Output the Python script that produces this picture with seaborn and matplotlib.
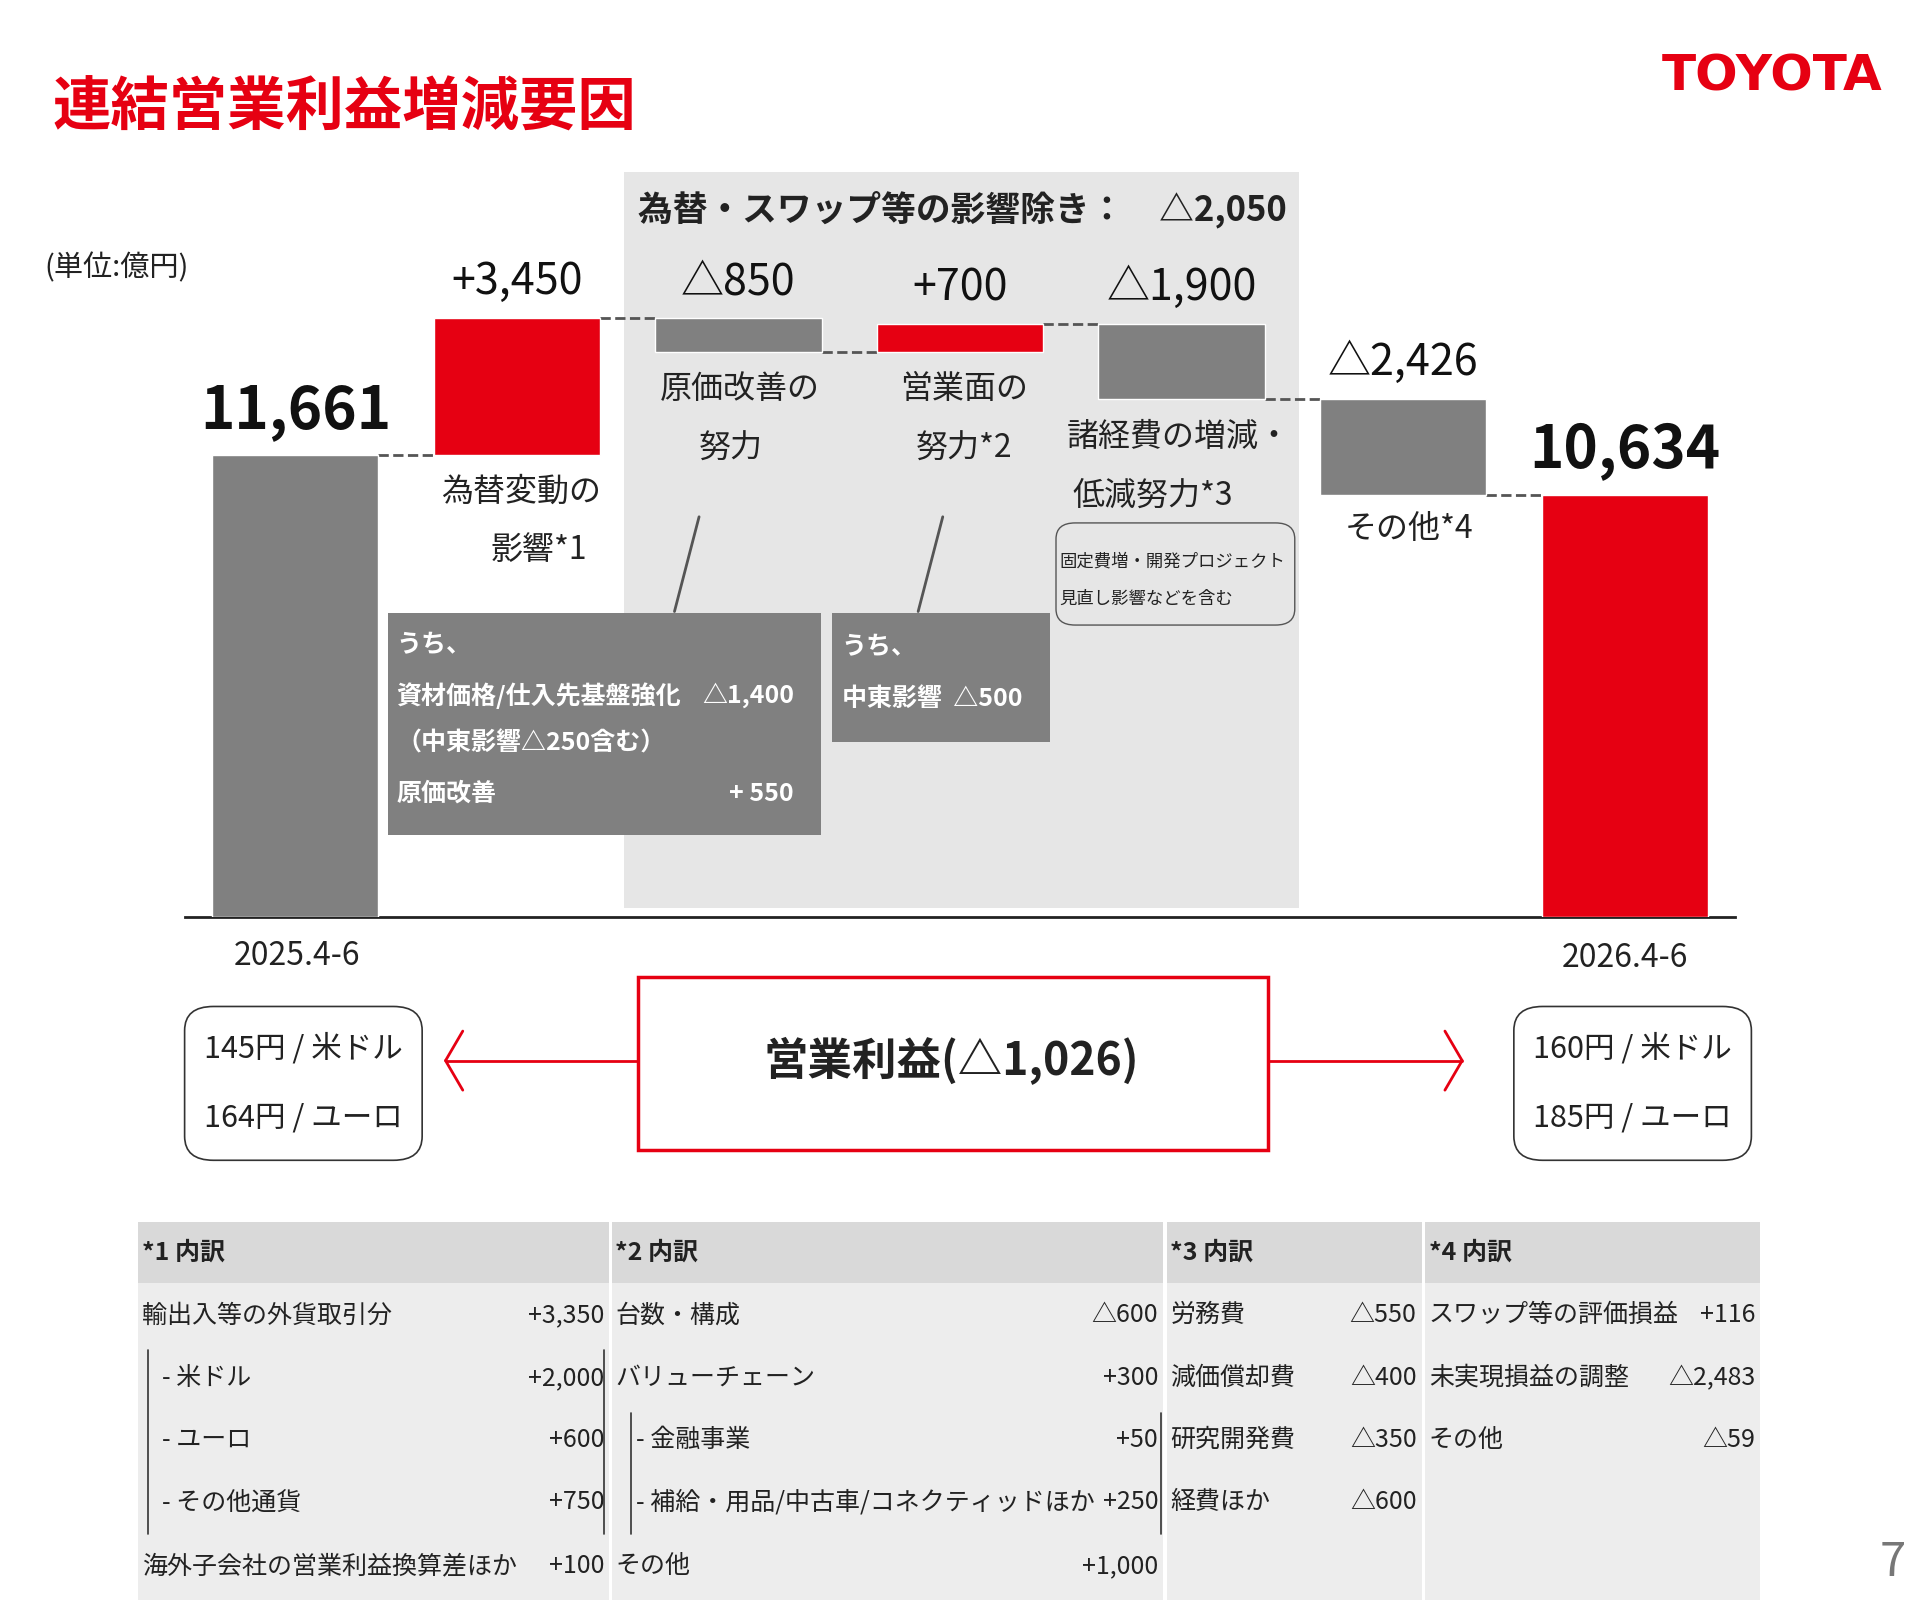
import matplotlib
matplotlib.use("Agg")
import matplotlib.pyplot as plt
from matplotlib.patches import Rectangle, FancyBboxPatch
from matplotlib.lines import Line2D
import seaborn as sns

# data
steps = ["2025.4-6", "為替変動の影響", "原価改善の努力", "営業面の努力", "諸経費の増減・低減努力", "その他", "2026.4-6"]
deltas = [11661, 3450, -850, 700, -1900, -2426, 10634]
value_labels = ["11,661", "+3,450", "△850", "+700", "△1,900", "△2,426", "10,634"]

t1_rows = [("輸出入等の外貨取引分", "+3,350"), ("- 米ドル", "+2,000"), ("- ユーロ", "+600"),
           ("- その他通貨", "+750"), ("海外子会社の営業利益換算差ほか", "+100")]
t2_rows = [("台数・構成", "△600"), ("バリューチェーン", "+300"), ("- 金融事業", "+50"),
           ("- 補給・用品/中古車/コネクティッドほか", "+250"), ("その他", "+1,000")]
t3_rows = [("労務費", "△550"), ("減価償却費", "△400"), ("研究開発費", "△350"), ("経費ほか", "△600")]
t4_rows = [("スワップ等の評価損益", "+116"), ("未実現損益の調整", "△2,483"), ("その他", "△59")]

RED = "#E60012"
GRAY = "#808080"

sns.set_theme(style="white")
plt.rcParams['font.family'] = ['Noto Sans CJK JP', 'DejaVu Sans']

W, H = 1560, 1302
fig = plt.figure(figsize=(19.2, 16.02), dpi=100)


def fx(x):
    return x / W


def fy(y):
    return 1 - y / H


def txt(x, y, s, size=20, ha="left", va="center", color="#222222", weight="normal", **kw):
    fig.text(fx(x), fy(y), s, fontsize=size, ha=ha, va=va, color=color, weight=weight, **kw)


def rect(x0, y0, x1, y1, **kw):
    fig.patches.append(Rectangle((fx(x0), fy(y1)), fx(x1) - fx(x0), fy(y0) - fy(y1),
                                 transform=fig.transFigure, **kw))


def line(x0, y0, x1, y1, **kw):
    fig.lines.append(Line2D([fx(x0), fx(x1)], [fy(y0), fy(y1)], transform=fig.transFigure, **kw))


# waterfall axes
ax = fig.add_axes([fx(150), fy(745), fx(1410) - fx(150), fy(140) - fy(745)])
ax.patch.set_alpha(0)
# shaded region behind the middle steps
ax.axvspan(1.483, 4.528, ymin=0.0116, ymax=1, color="#e6e6e6", lw=0, zorder=0)
bottoms, heights, colors = [], [], []
level = 0
for i, d in enumerate(deltas):
    if i == 0 or i == len(deltas) - 1:
        bottoms.append(0); heights.append(d); level = d
        colors.append(GRAY if i == 0 else RED)
    else:
        b = level if d >= 0 else level + d
        bottoms.append(b); heights.append(abs(d)); level += d
        colors.append(RED if d >= 0 else GRAY)
xs = list(range(len(deltas)))
ax.bar(xs, heights, bottom=bottoms, width=0.75, color=colors, zorder=3)
tops = [b + h for b, h in zip(bottoms, heights)]
level = 0
for i, d in enumerate(deltas[:-1]):
    level = d if i == 0 else level + d
    ax.plot([i + 0.375, i + 1 - 0.375], [level, level], ls="--", color="#555555", lw=2, zorder=2)
ax.set_xlim(-0.5, 6.5)
ax.set_ylim(0, 18790)
ax.set_xticks([]); ax.set_yticks([])
for s in ["top", "left", "right"]:
    ax.spines[s].set_visible(False)
ax.spines["bottom"].set_color("#222222")
ax.spines["bottom"].set_linewidth(2)
big = {0: 42, 6: 42}
for i, lab in enumerate(value_labels):
    ax.text(i, tops[i] + 350, lab, ha="center", va="bottom", fontsize=big.get(i, 31),
            weight="bold" if i in big else "normal", color="#111111", zorder=4)

# titles
txt(43, 88, "連結営業利益増減要因", size=42, color=RED, weight="bold")
txt(1440, 62, "TOYOTA", size=36, color=RED, weight="bold", ha="center", family="DejaVu Sans")
txt(36, 218, "(単位:億円)", size=21)
txt(782, 170, "為替・スワップ等の影響除き：　△2,050", size=25, ha="center", weight="bold")
txt(1538, 1270, "7", size=34, color="#777777", ha="center")

# step labels
txt(423, 400, "為替変動の", size=23, ha="center")
txt(438, 447, "影響*1", size=23, ha="center")
txt(601, 316, "原価改善の", size=23, ha="center")
txt(594, 365, "努力", size=23, ha="center")
txt(783, 316, "営業面の", size=23, ha="center")
txt(783, 365, "努力*2", size=23, ha="center")
txt(958, 355, "諸経費の増減・", size=23, ha="center")
txt(937, 403, "低減努力*3", size=23, ha="center")
txt(1145, 430, "その他*4", size=23, ha="center")
txt(241, 777, "2025.4-6", size=23, ha="center")
txt(1320, 779, "2026.4-6", size=23, ha="center")

# note boxes
rect(315, 498, 667, 679, facecolor=GRAY, edgecolor="none", zorder=1)
txt(322, 524, "うち、", size=18, color="white", weight="bold")
txt(322, 565, "資材価格/仕入先基盤強化", size=18, color="white", weight="bold")
txt(645, 565, "△1,400", size=18, color="white", weight="bold", ha="right")
txt(322, 604, "（中東影響△250含む）", size=18, color="white", weight="bold")
txt(322, 645, "原価改善", size=18, color="white", weight="bold")
txt(645, 645, "+ 550", size=18, color="white", weight="bold", ha="right")
rect(676, 498, 853, 603, facecolor=GRAY, edgecolor="none", zorder=1)
txt(684, 526, "うち、", size=18, color="white", weight="bold")
txt(684, 568, "中東影響  △500", size=18, color="white", weight="bold")
line(568, 420, 548, 497, color="#555555", lw=2)
line(766, 420, 746, 497, color="#555555", lw=2)
fig.patches.append(FancyBboxPatch((fx(858), fy(508)), fx(1052) - fx(858), fy(425) - fy(508),
                                  boxstyle="round,pad=0,rounding_size=0.01", transform=fig.transFigure,
                                  facecolor="none", edgecolor="#555555", lw=1))
txt(861, 456, "固定費増・開発プロジェクト", size=12.5)
txt(861, 487, "見直し影響などを含む", size=12.5)

# center box and arrows (open chevron heads)
rect(518, 794, 1030, 935, facecolor="white", edgecolor=RED, lw=2.5)
txt(773, 862, "営業利益(△1,026)", size=32, ha="center", weight="bold")
line(518, 862, 362, 862, color=RED, lw=2)
line(362, 862, 376, 838, color=RED, lw=2)
line(362, 862, 376, 886, color=RED, lw=2)
line(1030, 862, 1188, 862, color=RED, lw=2)
line(1188, 862, 1174, 838, color=RED, lw=2)
line(1188, 862, 1174, 886, color=RED, lw=2)
for x0, x1, a, b in [(150, 343, "145円 / 米ドル", "164円 / ユーロ"), (1230, 1423, "160円 / 米ドル", "185円 / ユーロ")]:
    fig.patches.append(FancyBboxPatch((fx(x0), fy(943)), fx(x1) - fx(x0), fy(818) - fy(943),
                                      boxstyle="round,pad=0,rounding_size=0.015", transform=fig.transFigure,
                                      facecolor="none", edgecolor="#333333", lw=1.2))
    txt((x0 + x1) / 2, 852, a, size=22, ha="center")
    txt((x0 + x1) / 2, 909, b, size=22, ha="center")

# breakdown tables
cols = [(112, 495, "*1 内訳", t1_rows), (497, 945, "*2 内訳", t2_rows),
        (948, 1155, "*3 内訳", t3_rows), (1158, 1430, "*4 内訳", t4_rows)]
row_y = [1069, 1120, 1170, 1221, 1273]
for x0, x1, head, rows in cols:
    rect(x0, 993, x1, 1043, facecolor="#d9d9d9", edgecolor="none")
    rect(x0, 1043, x1, 1300, facecolor="#ededed", edgecolor="none")
    txt(x0 + 3, 1018, head, size=18, weight="bold")
    for (lab, val), y in zip(rows, row_y):
        indent = 20 if lab.startswith("- ") else 3
        txt(x0 + indent, y, lab, size=18)
        txt(x1 - 4, y, val, size=18, ha="right")
for x, y0, y1 in [(120, 1097, 1247), (491, 1097, 1247), (513, 1148, 1247), (943, 1148, 1247)]:
    line(x, y0, x, y1, color="#333333", lw=1.2)

fig.savefig("out.png", dpi=100)
